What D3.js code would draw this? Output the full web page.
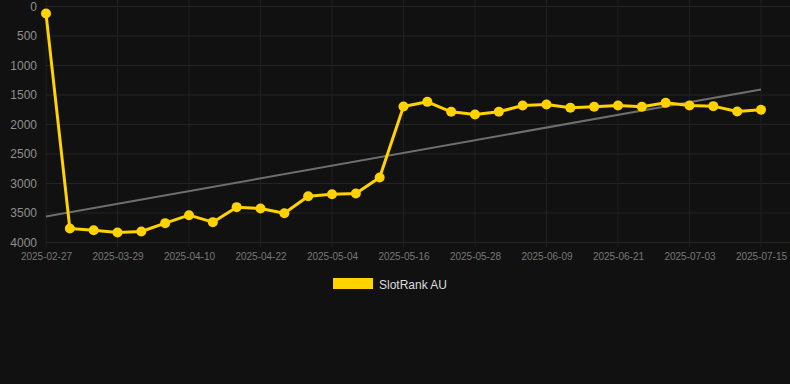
<!DOCTYPE html>
<html><head><meta charset="utf-8">
<script src="https://cdn.jsdelivr.net/npm/d3@7"></script>
<style>
html,body{margin:0;padding:0;background:#111111;}
svg{display:block;}
</style></head>
<body>
<script>
const categories = ["2025-02-27","2025-03-21","2025-03-25","2025-03-29","2025-04-02","2025-04-06","2025-04-10","2025-04-14","2025-04-18","2025-04-22","2025-04-26","2025-04-30","2025-05-04","2025-05-08","2025-05-12","2025-05-16","2025-05-20","2025-05-24","2025-05-28","2025-06-01","2025-06-05","2025-06-09","2025-06-13","2025-06-17","2025-06-21","2025-06-25","2025-06-29","2025-07-03","2025-07-07","2025-07-11","2025-07-15"];
const rankValues = [120,3763,3791,3830,3813,3672,3537,3655,3401,3424,3503,3215,3181,3169,2898,1695,1616,1785,1830,1785,1678,1661,1717,1700,1678,1700,1633,1678,1689,1780,1751];
const trendValues = [3560,1405];
const yTicks = [0,500,1000,1500,2000,2500,3000,3500,4000];
const seriesName = "SlotRank AU";

const W = 790, H = 384;
const mLeft = 46, mRight = 761, mTop = 6.5, mBottom = 242.5;
const svg = d3.select("body").append("svg").attr("width", W).attr("height", H);
svg.append("rect").attr("width", W).attr("height", H).attr("fill", "#111111");

const x = d3.scalePoint().domain(categories).range([mLeft, mRight]);
const y = d3.scaleLinear().domain([0, 4000]).range([mTop, mBottom]);

// horizontal grid
svg.append("g").selectAll("line").data(yTicks).join("line")
  .attr("x1", mLeft).attr("x2", W).attr("y1", d => y(d)).attr("y2", d => y(d))
  .attr("stroke", "#242424").attr("stroke-width", 1);
const yAxis = d3.axisLeft(y).tickValues(yTicks).tickFormat(d3.format("d")).tickSize(0).tickPadding(9);
const gy = svg.append("g").attr("transform", `translate(${mLeft},0)`).call(yAxis);
gy.select(".domain").remove();
gy.selectAll("text").attr("fill", "#8f8f8f").attr("font-size", 12).attr("font-family", "Arial, Liberation Sans, sans-serif");

// vertical grid + x labels
const xTickVals = categories.filter((d, i) => i % 3 === 0);
svg.append("g").selectAll("line").data(xTickVals).join("line")
  .attr("x1", d => x(d)).attr("x2", d => x(d)).attr("y1", 0).attr("y2", mBottom + 5)
  .attr("stroke", "#202020").attr("stroke-width", 1);
const xAxis = d3.axisBottom(x).tickValues(xTickVals).tickSize(0).tickPadding(10);
const gx = svg.append("g").attr("transform", `translate(0,${mBottom})`).call(xAxis);
gx.select(".domain").remove();
gx.selectAll("text").attr("fill", "#777777").attr("font-size", 10).attr("font-family", "Arial, Liberation Sans, sans-serif");

// trend line
svg.append("line")
  .attr("x1", x(categories[0])).attr("x2", x(categories[categories.length - 1]))
  .attr("y1", y(trendValues[0])).attr("y2", y(trendValues[1]))
  .attr("stroke", "#6e6e6e").attr("stroke-width", 2);

// series line
const line = d3.line().x((d, i) => x(categories[i])).y(d => y(d));
svg.append("path").datum(rankValues).attr("d", line)
  .attr("fill", "none").attr("stroke", "#FFD200").attr("stroke-width", 3)
  .attr("stroke-linejoin", "round");
svg.append("g").selectAll("circle").data(rankValues).join("circle")
  .attr("cx", (d, i) => x(categories[i])).attr("cy", d => y(d)).attr("r", 5)
  .attr("fill", "#FFD200");

// legend
const lg = svg.append("g");
lg.append("rect").attr("x", 333).attr("y", 278).attr("width", 40).attr("height", 11).attr("fill", "#FFD200");
lg.append("text").attr("x", 379).attr("y", 288.5).text(seriesName)
  .attr("fill", "#dddddd").attr("font-size", 12).attr("font-family", "Arial, Liberation Sans, sans-serif");
</script>
</body></html>
